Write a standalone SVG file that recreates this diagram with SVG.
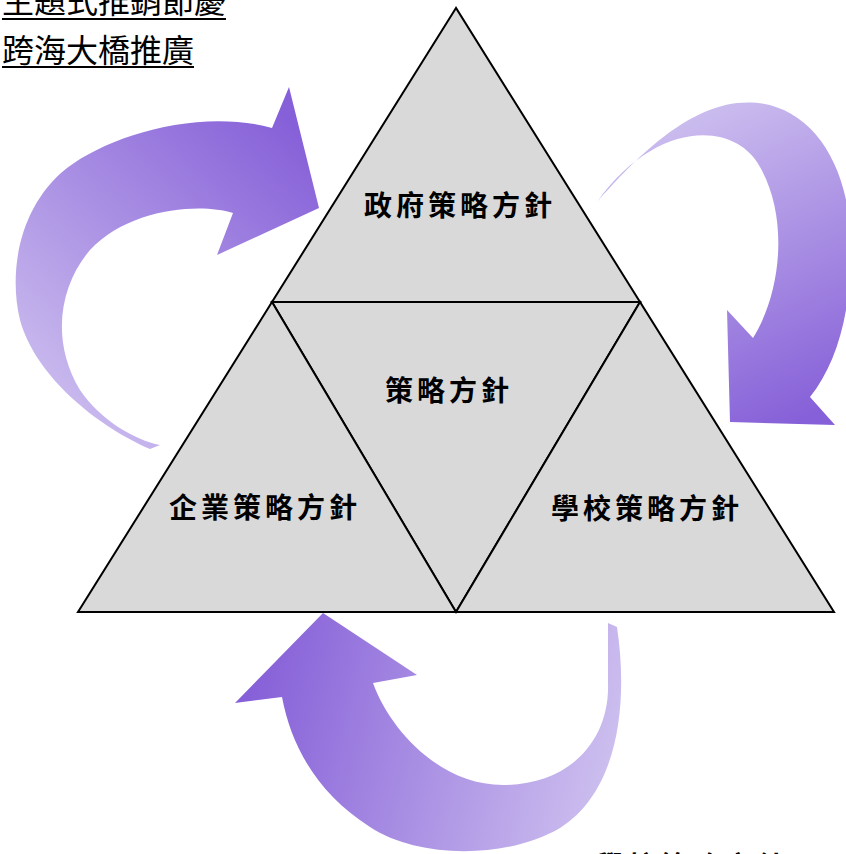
<svg xmlns="http://www.w3.org/2000/svg" width="846" height="854" viewBox="0 0 846 854">
<style>
.tri{fill:#d9d9d9;stroke:#000;stroke-width:2;stroke-linejoin:miter}
.lbl{font-family:"Noto Sans CJK TC","Noto Sans CJK SC",sans-serif;font-weight:700;font-size:28px;letter-spacing:4px;fill:#000;text-anchor:middle}
.note{font-family:"Noto Sans CJK TC","Noto Sans CJK SC",sans-serif;font-weight:400;font-size:32px;fill:#000}
.ul{stroke:#000;stroke-width:2}
</style>
<defs>
<linearGradient id="g1" gradientUnits="userSpaceOnUse" x1="60" y1="430" x2="320" y2="150">
<stop offset="0" stop-color="#cdbfef"/><stop offset="1" stop-color="#8660d8"/>
</linearGradient>
<linearGradient id="g2" gradientUnits="userSpaceOnUse" x1="660" y1="120" x2="800" y2="420">
<stop offset="0" stop-color="#cdbfef"/><stop offset="1" stop-color="#8660d8"/>
</linearGradient>
<linearGradient id="g3" gradientUnits="userSpaceOnUse" x1="250" y1="690" x2="610" y2="780">
<stop offset="0" stop-color="#8660d8"/><stop offset="1" stop-color="#cdbfef"/>
</linearGradient>
</defs>
<rect width="846" height="854" fill="#fff"/>
<g id="notes">
<text class="note" x="2" y="13">主題式推銷節慶</text>
<line class="ul" x1="2" y1="19" x2="226" y2="19"/>
<text class="note" x="2" y="62">跨海大橋推廣</text>
<line class="ul" x1="2" y1="67" x2="194" y2="67"/>
</g>
<g id="node-gov">
<polygon class="tri" points="456,8 272,302 640,302"/>
<text class="lbl" x="460" y="216">政府策略方針</text>
</g>
<g id="node-center">
<polygon class="tri" points="272,302 640,302 456,612"/>
<text class="lbl" x="449" y="401">策略方針</text>
</g>
<g id="node-biz">
<polygon class="tri" points="272,302 78,612 456,612"/>
<text class="lbl" x="265" y="518">企業策略方針</text>
</g>
<g id="node-school">
<polygon class="tri" points="640,302 456,612 834,612"/>
<text class="lbl" x="647" y="519">學校策略方針</text>
</g>
<g id="connectors">
<path fill="url(#g1)" d="M 150 449 C 95 425, 35 375, 20 320 C 8 270, 20 205, 67 168 C 110 135, 200 108, 272 128 L 289 87 L 319 208 L 217 255 L 233 213 C 200 203, 130 208, 90 250 C 60 285, 50 340, 80 390 C 100 420, 135 440, 160 445 Z"/>
<path fill="url(#g2)" d="M 597 202 C 630 165, 680 110, 737 103 C 800 96, 845 150, 850 230 C 854 300, 840 360, 810 397 L 835 425 L 730 422 L 727 310 L 753 338 C 780 295, 790 220, 760 167 C 735 120, 655 120, 597 202 Z"/>
<path fill="url(#g3)" d="M 323 613 L 417 675 L 373 683 C 390 730, 440 785, 503 785 C 570 785, 610 740, 608 683 L 608 623 L 617 627 C 628 700, 620 790, 560 828 C 510 858, 420 860, 370 827 C 320 795, 292 750, 282 697 L 235 703 Z"/>
</g>
<g id="cut-label">
<text class="lbl" x="692" y="877">學校策略方針</text>
</g>
</svg>
